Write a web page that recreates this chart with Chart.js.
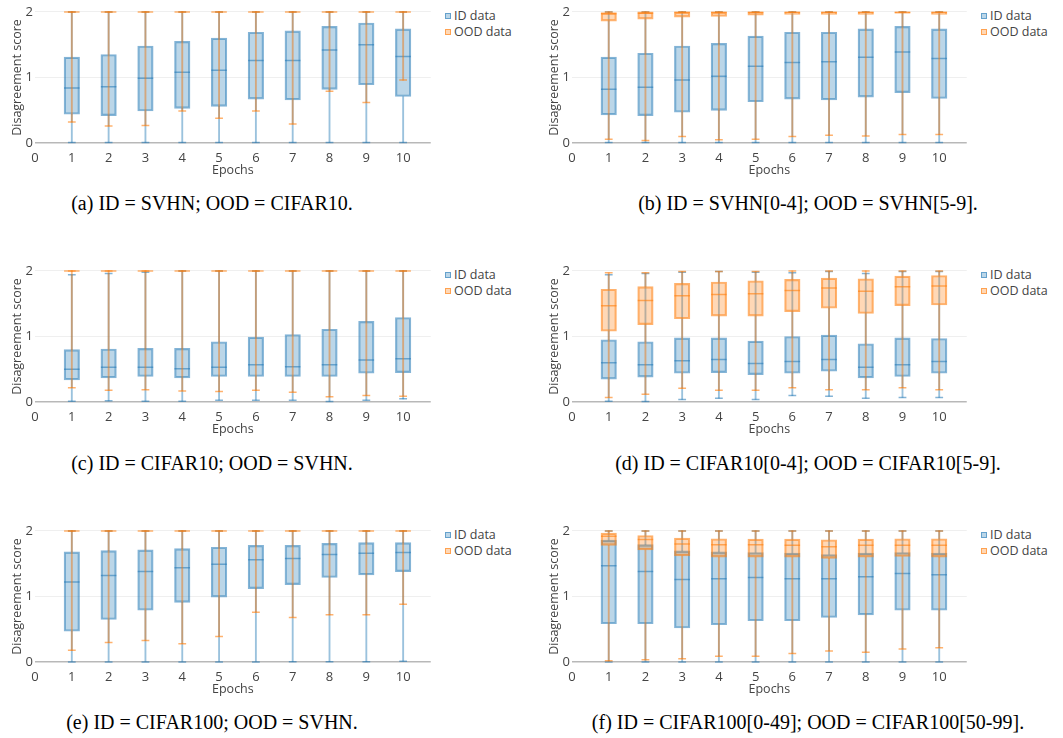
<!DOCTYPE html>
<html><head><meta charset="utf-8">
<script src="https://cdn.jsdelivr.net/npm/chart.js@4.4.1/dist/chart.umd.min.js"></script>
<style>
html,body{margin:0;padding:0;background:#fff;width:1063px;height:738px;overflow:hidden;position:relative;font-family:"Open Sans",sans-serif;}
canvas{position:absolute;}
.cap{position:absolute;font-family:"Liberation Serif","Times New Roman",serif;font-size:20px;color:#000;text-align:center;white-space:nowrap;height:24px;line-height:24px;}
.leg{position:absolute;font-family:"Open Sans",sans-serif;font-size:12.5px;color:#444;white-space:nowrap;line-height:16px;height:16px;}
.leg i{position:absolute;left:-9px;top:5px;width:4px;height:4px;border:1px solid;}
</style></head><body>
<script>
// ---------- shared axes ----------
const epochs = [1,2,3,4,5,6,7,8,9,10];
const xTickLabels = ['0','1','2','3','4','5','6','7','8','9','10'];
const yTickLabels = ['0','1','2'];
const seriesNames = ['ID data','OOD data'];
const xTitle = 'Epochs';
const yTitle = 'Disagreement score';
const captions = [
  '(a) ID = SVHN; OOD = CIFAR10.',
  '(b) ID = SVHN[0-4]; OOD = SVHN[5-9].',
  '(c) ID = CIFAR10; OOD = SVHN.',
  '(d) ID = CIFAR10[0-4]; OOD = CIFAR10[5-9].',
  '(e) ID = CIFAR100; OOD = SVHN.',
  '(f) ID = CIFAR100[0-49]; OOD = CIFAR100[50-99].'
];

// ---------- (a) ----------
const a_idLo  = [0.01,0.01,0.01,0.01,0.01,0.01,0.01,0.01,0.01,0.01];
const a_idQ1  = [0.44,0.42,0.49,0.53,0.56,0.67,0.66,0.82,0.89,0.71];
const a_idMed = [0.84,0.86,0.99,1.08,1.11,1.26,1.26,1.42,1.50,1.32];
const a_idQ3  = [1.31,1.35,1.48,1.55,1.60,1.69,1.71,1.78,1.83,1.74];
const a_idHi  = [2,2,2,2,2,2,2,2,2,2];
const a_odLo  = [0.32,0.26,0.27,0.49,0.38,0.49,0.29,0.79,0.62,0.96];
const a_odQ1  = [2,2,2,2,2,2,2,2,2,2];
const a_odMed = [2,2,2,2,2,2,2,2,2,2];
const a_odQ3  = [2,2,2,2,2,2,2,2,2,2];
const a_odHi  = [2,2,2,2,2,2,2,2,2,2];

// ---------- (b) ----------
const b_idLo  = [0.01,0.01,0.01,0.01,0.01,0.01,0.01,0.01,0.01,0.01];
const b_idQ1  = [0.43,0.42,0.47,0.50,0.63,0.67,0.66,0.70,0.77,0.68];
const b_idMed = [0.82,0.85,0.96,1.02,1.17,1.23,1.24,1.31,1.39,1.29];
const b_idQ3  = [1.31,1.37,1.48,1.52,1.63,1.69,1.69,1.74,1.78,1.74];
const b_idHi  = [2,2,2,2,2,2,2,2,2,2];
const b_odLo  = [0.06,0.04,0.10,0.05,0.06,0.10,0.12,0.11,0.13,0.13];
const b_odQ1  = [1.86,1.89,1.92,1.93,1.95,1.96,1.96,1.96,1.98,1.96];
const b_odMed = [1.97,1.98,1.99,1.99,1.99,1.99,1.99,1.99,1.99,1.99];
const b_odQ3  = [1.99,2,2,2,2,2,2,2,2,2];
const b_odHi  = [2,2,2,2,2,2,2,2,2,2];

// ---------- (c) ----------
const c_idLo  = [0.015,0.02,0.015,0.015,0.03,0.03,0.03,0.01,0.03,0.05];
const c_idQ1  = [0.34,0.37,0.39,0.37,0.39,0.39,0.39,0.39,0.44,0.45];
const c_idMed = [0.50,0.53,0.53,0.51,0.53,0.57,0.54,0.57,0.64,0.66];
const c_idQ3  = [0.80,0.81,0.82,0.82,0.92,0.99,1.03,1.11,1.23,1.29];
const c_idHi  = [1.94,1.96,1.98,2,2,2,2,2,2,2];
const c_odLo  = [0.22,0.18,0.19,0.17,0.16,0.18,0.15,0.08,0.10,0.09];
const c_odQ1  = [2,2,2,2,2,2,2,2,2,2];
const c_odMed = [2,2,2,2,2,2,2,2,2,2];
const c_odQ3  = [2,2,2,2,2,2,2,2,2,2];
const c_odHi  = [2,2,2,2,2,2,2,2,2,2];

// ---------- (d) ----------
const d_idLo  = [0.015,0.01,0.04,0.06,0.04,0.10,0.09,0.06,0.07,0.07];
const d_idQ1  = [0.35,0.38,0.44,0.45,0.42,0.44,0.47,0.37,0.39,0.44];
const d_idMed = [0.60,0.57,0.63,0.65,0.59,0.62,0.65,0.53,0.57,0.62];
const d_idQ3  = [0.95,0.92,0.98,0.98,0.93,1.00,1.02,0.89,0.98,0.97];
const d_idHi  = [1.94,1.96,1.98,1.99,1.98,1.97,1.99,1.96,1.99,1.99];
const d_odLo  = [0.07,0.12,0.21,0.18,0.18,0.22,0.19,0.19,0.22,0.19];
const d_odQ1  = [1.08,1.18,1.27,1.31,1.31,1.38,1.43,1.35,1.47,1.48];
const d_odMed = [1.47,1.55,1.62,1.64,1.65,1.70,1.74,1.69,1.76,1.77];
const d_odQ3  = [1.72,1.76,1.81,1.83,1.85,1.87,1.89,1.88,1.92,1.93];
const d_odHi  = [1.97,1.97,1.99,1.99,1.99,2,2,2,2,2];

// ---------- (e) ----------
const e_idLo  = [0,0,0,0,0,0,0.005,0.005,0.005,0.015];
const e_idQ1  = [0.47,0.65,0.79,0.91,0.99,1.12,1.18,1.29,1.33,1.38];
const e_idMed = [1.22,1.32,1.38,1.44,1.49,1.56,1.58,1.64,1.66,1.67];
const e_idQ3  = [1.68,1.70,1.71,1.73,1.75,1.78,1.78,1.81,1.82,1.82];
const e_idHi  = [2,2,2,2,2,2,2,2,2,2];
const e_odLo  = [0.18,0.30,0.33,0.28,0.39,0.76,0.68,0.72,0.72,0.88];
const e_odQ1  = [2,2,2,2,2,2,2,2,2,2];
const e_odMed = [2,2,2,2,2,2,2,2,2,2];
const e_odQ3  = [2,2,2,2,2,2,2,2,2,2];
const e_odHi  = [2,2,2,2,2,2,2,2,2,2];

// ---------- (f) ----------
const f_idLo  = [0,0,0,0,0,0,0,0,0,0];
const f_idQ1  = [0.585,0.585,0.52,0.57,0.63,0.63,0.68,0.72,0.79,0.79];
const f_idMed = [1.47,1.38,1.26,1.27,1.29,1.27,1.27,1.30,1.35,1.33];
const f_idQ3  = [1.86,1.79,1.695,1.68,1.67,1.66,1.64,1.66,1.67,1.66];
const f_idHi  = [2,2,2,2,2,2,2,2,2,2];
const f_odLo  = [0.02,0.035,0.05,0.09,0.09,0.13,0.17,0.15,0.20,0.22];
const f_odQ1  = [1.78,1.71,1.62,1.60,1.60,1.60,1.58,1.60,1.61,1.60];
const f_odMed = [1.92,1.87,1.80,1.79,1.79,1.78,1.76,1.78,1.78,1.78];
const f_odQ3  = [1.965,1.93,1.89,1.88,1.875,1.875,1.865,1.875,1.88,1.88];
const f_odHi  = [2,2,2,2,2,2,2,2,2,2];

const panels = [
  {id:{lo:a_idLo,q1:a_idQ1,med:a_idMed,q3:a_idQ3,hi:a_idHi}, od:{lo:a_odLo,q1:a_odQ1,med:a_odMed,q3:a_odQ3,hi:a_odHi}},
  {id:{lo:b_idLo,q1:b_idQ1,med:b_idMed,q3:b_idQ3,hi:b_idHi}, od:{lo:b_odLo,q1:b_odQ1,med:b_odMed,q3:b_odQ3,hi:b_odHi}},
  {id:{lo:c_idLo,q1:c_idQ1,med:c_idMed,q3:c_idQ3,hi:c_idHi}, od:{lo:c_odLo,q1:c_odQ1,med:c_odMed,q3:c_odQ3,hi:c_odHi}},
  {id:{lo:d_idLo,q1:d_idQ1,med:d_idMed,q3:d_idQ3,hi:d_idHi}, od:{lo:d_odLo,q1:d_odQ1,med:d_odMed,q3:d_odQ3,hi:d_odHi}},
  {id:{lo:e_idLo,q1:e_idQ1,med:e_idMed,q3:e_idQ3,hi:e_idHi}, od:{lo:e_odLo,q1:e_odQ1,med:e_odMed,q3:e_odQ3,hi:e_odHi}},
  {id:{lo:f_idLo,q1:f_idQ1,med:f_idMed,q3:f_idQ3,hi:f_idHi}, od:{lo:f_odLo,q1:f_odQ1,med:f_odMed,q3:f_odQ3,hi:f_odHi}}
];

// ---------- styling / layout ----------
const ID_LINE='rgba(31,119,180,0.55)', ID_FILL='rgba(31,119,180,0.3)', ID_WHISK='rgba(31,119,180,0.45)';
const OD_LINE='rgba(255,127,14,0.6)',  OD_FILL='rgba(255,127,14,0.3)', OD_WHISK='rgba(235,120,20,0.5)';
const colLeft = [0, 537];
const canvasW = [440, 439];
const chartTops = [5, 264, 524];
const capCenterY = [203, 463, 722];
const capBox = [[0,424],[568,480]];
const legSquareX = [445, 980.5];
const legTextX = [454, 990];

function rng(a,b){ return a.map((v,i)=>({x:epochs[i], y:[v,b[i]]})); }
function pts(a){ return a.map((v,i)=>({x:epochs[i], y:v})); }

function boxSets(s, line, fill, whisk, name, baseOrder){
  return [
    {type:'bar', label:name+' whisker low', data:rng(s.lo,s.q1), backgroundColor:whisk, borderWidth:0, barThickness:1.2, grouped:false, order:baseOrder+3},
    {type:'bar', label:name+' whisker high', data:rng(s.q3,s.hi), backgroundColor:whisk, borderWidth:0, barThickness:1.2, grouped:false, order:baseOrder+3},
    {type:'bar', label:name, data:rng(s.q1,s.q3), backgroundColor:fill, borderColor:line, borderWidth:1.5, borderSkipped:false, barThickness:15.5, grouped:false, order:baseOrder+2},
    {type:'scatter', label:name+' median', data:pts(s.med), pointStyle:'line', pointRadius:7.75, borderColor:line, borderWidth:1.5, order:baseOrder+1},
    {type:'scatter', label:name+' caps', data:pts(s.lo).concat(pts(s.hi)), pointStyle:'line', pointRadius:3.9, borderColor:line, borderWidth:1.5, order:baseOrder+1}
  ];
}

function makeChart(idx){
  const col = idx % 2, row = Math.floor(idx/2);
  const cv = document.createElement('canvas');
  cv.width = canvasW[col]; cv.height = 190;
  cv.style.left = colLeft[col]+'px'; cv.style.top = (chartTops[row]-15)+'px';
  cv.style.width = canvasW[col]+'px'; cv.style.height = '190px';
  document.body.appendChild(cv);
  const p = panels[idx];
  const font13 = {family:'"Open Sans"', size:13};
  const font12 = {family:'"Open Sans"', size:12.5};
  new Chart(cv, {
    type:'bar',
    data:{datasets: boxSets(p.id, ID_LINE, ID_FILL, ID_WHISK, seriesNames[0], 4).concat(boxSets(p.od, OD_LINE, OD_FILL, OD_WHISK, seriesNames[1], 0))},
    options:{
      responsive:false, animation:false, events:[], devicePixelRatio:1,
      layout:{padding:{top:15,right:8,bottom:2,left:0}},
      plugins:{legend:{display:false}, tooltip:{enabled:false}},
      scales:{
        x:{type:'linear', min:0, max:10.75, offset:false,
           ticks:{stepSize:1, includeBounds:false, autoSkip:false, maxRotation:0, color:'#444', font:font13, padding:0,
                  callback:(v)=>xTickLabels[v]},
           grid:{display:false, drawTicks:false, offset:false},
           border:{display:false},
           title:{display:true, text:xTitle, color:'#444', font:font12, padding:{top:0,bottom:0}},
           afterFit:(s)=>{ s.height = 28; }
        },
        y:{type:'linear', min:-0.105, max:2.105,
           ticks:{stepSize:1, includeBounds:false, color:'#444', font:font13, padding:2,
                  callback:(v)=>yTickLabels[v]},
           grid:{drawTicks:false,
                 color:(c)=> (c.tick && c.tick.value===0) ? 'rgba(0,0,0,0.28)' : '#efefef',
                 lineWidth:(c)=> (c.tick && c.tick.value===0) ? 1.5 : 1},
           border:{display:false},
           title:{display:true, text:yTitle, color:'#444', font:font12, padding:{top:10,bottom:0}},
           afterFit:(s)=>{ s.width = 35; }
        }
      }
    }
  });
  // legend
  const legCols = [[ID_LINE,ID_FILL],[OD_LINE,OD_FILL]];
  seriesNames.forEach((nm,k)=>{
    const d = document.createElement('div');
    d.className='leg';
    const cy = chartTops[row] + 7 + 3.5 + k*16.5;
    d.style.left = legTextX[col]+'px'; d.style.top = (cy-8)+'px';
    const sq = document.createElement('i');
    sq.style.left = (legSquareX[col]-legTextX[col])+'px';
    sq.style.borderColor = legCols[k][0]; sq.style.background = legCols[k][1];
    d.appendChild(sq);
    d.appendChild(document.createTextNode(nm));
    document.body.appendChild(d);
  });
  // caption
  const cp = document.createElement('div');
  cp.className='cap';
  cp.style.left = capBox[col][0]+'px'; cp.style.width = capBox[col][1]+'px';
  cp.style.top = (capCenterY[row]-12)+'px';
  cp.textContent = captions[idx];
  document.body.appendChild(cp);
}

function start(){ for(let i=0;i<6;i++) makeChart(i); }
Promise.all([
  document.fonts.load('13px "Open Sans"'),
  document.fonts.load('20px "Liberation Serif"')
]).then(start, start);
</script>
</body></html>
